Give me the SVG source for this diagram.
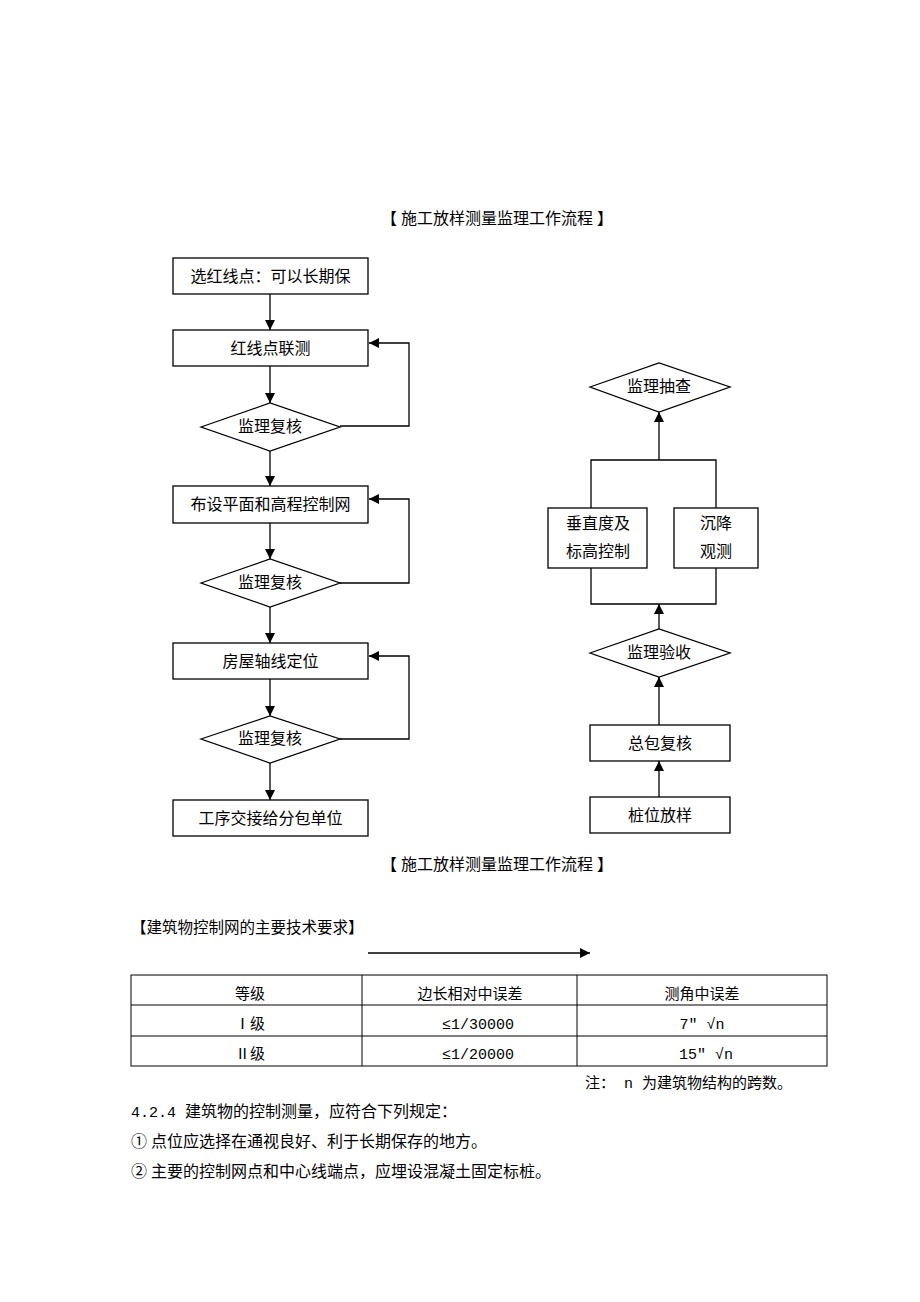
<svg xmlns="http://www.w3.org/2000/svg" width="920" height="1302" viewBox="0 0 920 1302">
<defs>
<style>
.bx{fill:#fff;stroke:#000;stroke-width:1.3}
.ln{fill:none;stroke:#000;stroke-width:1.3}
.t{font-family:"Liberation Serif","Noto Sans CJK SC",serif;font-size:16px;fill:#000;text-anchor:middle}
.s{font-family:"Liberation Serif","Noto Sans CJK SC",serif;font-size:15px;fill:#000}
.b{font-family:"Liberation Serif","Noto Sans CJK SC",serif;font-size:16px;fill:#000}
.m{font-family:"Liberation Mono","Noto Sans CJK SC",monospace}
.c{text-anchor:middle}
</style>
<marker id="ah" markerUnits="userSpaceOnUse" markerWidth="10" markerHeight="10" viewBox="0 0 10 10" refX="10" refY="5" orient="auto">
<path d="M0,0 L10,5 L0,10 z" fill="#000"/>
</marker>
</defs>
<rect width="920" height="1302" fill="#fff"/>

<text class="b c" x="497" y="224" xml:space="preserve">【 施工放样测量监理工作流程 】</text>

<g id="connectors">
<line class="ln" x1="270" y1="294" x2="270" y2="330" marker-end="url(#ah)"/>
<line class="ln" x1="270" y1="366" x2="270" y2="403" marker-end="url(#ah)"/>
<line class="ln" x1="270" y1="451" x2="270" y2="486" marker-end="url(#ah)"/>
<line class="ln" x1="270" y1="523" x2="270" y2="559" marker-end="url(#ah)"/>
<line class="ln" x1="270" y1="607" x2="270" y2="643" marker-end="url(#ah)"/>
<line class="ln" x1="270" y1="679" x2="270" y2="716" marker-end="url(#ah)"/>
<line class="ln" x1="270" y1="763" x2="270" y2="800" marker-end="url(#ah)"/>
<polyline class="ln" points="340,426 409,426 409,343 369,343" marker-end="url(#ah)"/>
<polyline class="ln" points="340,583 409,583 409,499 369,499" marker-end="url(#ah)"/>
<polyline class="ln" points="340,739 409,739 409,656 369,656" marker-end="url(#ah)"/>
<line class="ln" x1="659" y1="797" x2="659" y2="761" marker-end="url(#ah)"/>
<line class="ln" x1="659" y1="725" x2="659" y2="677" marker-end="url(#ah)"/>
<line class="ln" x1="659" y1="629" x2="659" y2="604" marker-end="url(#ah)"/>
<polyline class="ln" points="591,568 591,604 716,604 716,568"/>
<polyline class="ln" points="591,508 591,460 716,460 716,508"/>
<line class="ln" x1="659" y1="460" x2="659" y2="412" marker-end="url(#ah)"/>
<line class="ln" x1="368" y1="953" x2="590" y2="953" marker-end="url(#ah)"/>
</g>

<g id="n1"><rect class="bx" x="173" y="258" width="195" height="36"/><text class="t" x="270.5" y="282">选红线点：可以长期保</text></g>
<g id="n2"><rect class="bx" x="173" y="330" width="195" height="36"/><text class="t" x="270.5" y="354">红线点联测</text></g>
<g id="n3"><polygon class="bx" points="201,427 270,403 340,427 270,451"/><text class="t" x="270" y="432">监理复核</text></g>
<g id="n4"><rect class="bx" x="173" y="486" width="195" height="37"/><text class="t" x="270.5" y="510">布设平面和高程控制网</text></g>
<g id="n5"><polygon class="bx" points="201,583 270,559 340,583 270,607"/><text class="t" x="270" y="588">监理复核</text></g>
<g id="n6"><rect class="bx" x="173" y="643" width="195" height="36"/><text class="t" x="270.5" y="667">房屋轴线定位</text></g>
<g id="n7"><polygon class="bx" points="201,739 270,716 340,739 270,763"/><text class="t" x="270" y="744">监理复核</text></g>
<g id="n8"><rect class="bx" x="173" y="800" width="195" height="36"/><text class="t" x="270.5" y="824">工序交接给分包单位</text></g>

<g id="r1"><polygon class="bx" points="590,387 659,363 730,387 659,412"/><text class="t" x="659" y="392">监理抽查</text></g>
<g id="r2"><rect class="bx" x="548" y="508" width="99" height="60"/><text class="t" x="598" y="529">垂直度及</text><text class="t" x="598" y="557">标高控制</text></g>
<g id="r3"><rect class="bx" x="674" y="508" width="84" height="60"/><text class="t" x="716" y="529">沉降</text><text class="t" x="716" y="557">观测</text></g>
<g id="r4"><polygon class="bx" points="590,653 659,629 730,653 659,677"/><text class="t" x="659" y="658">监理验收</text></g>
<g id="r5"><rect class="bx" x="590" y="725" width="140" height="36"/><text class="t" x="660" y="749">总包复核</text></g>
<g id="r6"><rect class="bx" x="590" y="797" width="140" height="36"/><text class="t" x="660" y="821">桩位放样</text></g>

<text class="b c" x="497" y="870" xml:space="preserve">【 施工放样测量监理工作流程 】</text>
<text class="s" x="131" y="933" style="font-size:15.5px">【建筑物控制网的主要技术要求】</text>

<g id="table">
<rect x="131" y="975" width="696" height="91" fill="none" stroke="#000" stroke-width="1"/>
<line x1="131" y1="1005" x2="827" y2="1005" stroke="#000" stroke-width="1"/>
<line x1="131" y1="1036" x2="827" y2="1036" stroke="#000" stroke-width="1"/>
<line x1="362" y1="975" x2="362" y2="1066" stroke="#000" stroke-width="1"/>
<line x1="577" y1="975" x2="577" y2="1066" stroke="#000" stroke-width="1"/>
<text class="s c" x="250" y="999">等级</text>
<text class="s c" x="470" y="999">边长相对中误差</text>
<text class="s c" x="702" y="999">测角中误差</text>
<text class="s c" x="250" y="1029">Ⅰ级</text>
<text class="s c m" x="478" y="1029">≤1/30000</text>
<text class="s c m" x="702" y="1029" xml:space="preserve">7″ √n</text>
<text class="s c" x="250" y="1059">Ⅱ级</text>
<text class="s c m" x="478" y="1059">≤1/20000</text>
<text class="s c m" x="706" y="1059" xml:space="preserve">15″ √n</text>
</g>

<text class="s" x="585" y="1088" xml:space="preserve">注：<tspan class="m"> n </tspan>为建筑物结构的跨数。</text>
<text class="b" x="131" y="1117" xml:space="preserve"><tspan class="m" style="font-size:15px">4.2.4 </tspan>建筑物的控制测量，应符合下列规定：</text>
<text class="b" x="131" y="1147">① 点位应选择在通视良好、利于长期保存的地方。</text>
<text class="b" x="131" y="1177">② 主要的控制网点和中心线端点，应埋设混凝土固定标桩。</text>
</svg>
